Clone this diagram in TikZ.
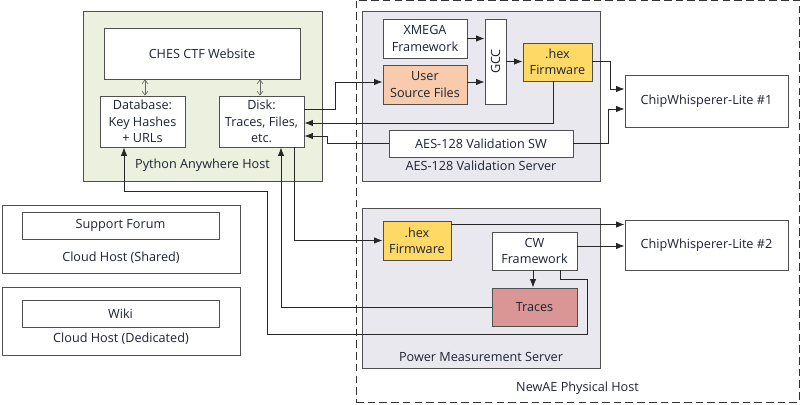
\documentclass[tikz,border=0pt]{standalone}
\usepackage{fontspec}
\setmainfont{Open Sans}
\usepackage{tikz}
\usetikzlibrary{arrows.meta,positioning,calc}
\definecolor{HostGreen}{HTML}{EBF1DE}
\definecolor{ServerGray}{HTML}{EAE8EF}
\definecolor{SrcOrange}{HTML}{F8CBAD}
\definecolor{HexYellow}{HTML}{FFD966}
\definecolor{TraceRed}{HTML}{D99694}
\definecolor{EdgeGray}{HTML}{505050}
\definecolor{InkDark}{HTML}{1C2333}

\begin{document}
\begin{tikzpicture}[
    x=0.03cm, y=-0.03cm,
    font=\fontsize{10.8}{14}\selectfont, text=InkDark,
    host/.style={rectangle, draw=EdgeGray, line width=0.8pt, fill=HostGreen},
    server/.style={rectangle, draw=EdgeGray, line width=0.8pt, fill=ServerGray},
    cloud/.style={rectangle, draw=EdgeGray, line width=0.8pt, fill=white},
    box/.style={rectangle, draw=EdgeGray, line width=0.8pt, fill=white, align=center, inner sep=1pt},
    src/.style={box, fill=SrcOrange},
    hexfile/.style={box, fill=HexYellow},
    tracefile/.style={box, fill=TraceRed},
    arrow/.style={-{Latex[length=2.5mm,width=1.9mm]}, line width=0.7pt, draw=black!85},
    dbl/.style={{Straight Barb[length=1.2mm,width=1.8mm]}-{Straight Barb[length=1.2mm,width=1.8mm]}, line width=0.5pt, draw=black!60}
]
\useasboundingbox (0,0) rectangle (800,405);

% physical host and servers
\node[rectangle, draw=black!80, line width=0.8pt, dash pattern=on 6.5pt off 3.5pt, minimum width=13.29cm, minimum height=12.06cm] (newae) at (577.5,201) {};
\node at ($(newae.south)+(0,-14)$) (newaelbl) {NewAE Physical Host};

\node[host, minimum width=7.17cm, minimum height=5.1cm] (pah) at (202.5,96) {};
\node at ($(pah.south)+(0,-16)$) (pahlbl) {Python Anywhere Host};
\node[server, minimum width=7.14cm, minimum height=5.1cm] (aes) at (481,96) {};
\node at ($(aes.south)+(0,-16)$) (aeslbl) {AES-128 Validation Server};
\node[server, minimum width=7.14cm, minimum height=4.8cm] (pms) at (481,288) {};
\node at ($(pms.south)+(0,-11)$) (pmslbl) {Power Measurement Server};

\node[cloud, minimum width=7.14cm, minimum height=2.04cm] (forumhost) at (121,239) {};
\node at ($(forumhost.south)+(0,-16)$) (forumlbl) {Cloud Host (Shared)};
\node[cloud, minimum width=7.14cm, minimum height=2.04cm] (wikihost) at (121,321) {};
\node at ($(wikihost.south)+(0,-17)$) (wikilbl) {Cloud Host (Dedicated)};

% boxes
\node[box, minimum width=5.88cm, minimum height=1.53cm] (ches) at (202,53.5) {CHES CTF Website};
\node[box, minimum width=2.55cm, minimum height=1.53cm] (db) at (142.5,121.5) {Database:\\Key Hashes\\+ URLs};
\node[box, minimum width=2.55cm, minimum height=1.53cm] (disk) at (261.5,121.5) {Disk:\\Traces, Files,\\etc.};

\node[box, minimum width=2.52cm, minimum height=1.17cm] (xmega) at (425,38.5) {XMEGA\\Framework};
\node[src, minimum width=2.52cm, minimum height=1.17cm] (user) at (425,84.5) {User\\Source Files};
\node[box, minimum width=0.63cm, minimum height=2.55cm] (gcc) at (495.5,61.5) {\rotatebox{90}{GCC}};
\node[hexfile, minimum width=2.07cm, minimum height=1.14cm] (hexa) at (557.5,62) {.hex\\Firmware};
\node[box, minimum width=5.52cm, minimum height=0.81cm] (aessw) at (481,143.5) {AES-128 Validation SW};
\node[box, minimum width=4.89cm, minimum height=1.56cm] (cwa) at (706.5,101) {ChipWhisperer-Lite \#1};

\node[hexfile, minimum width=2.04cm, minimum height=1.17cm] (hexb) at (417,240.5) {.hex\\Firmware};
\node[box, minimum width=2.55cm, minimum height=1.14cm] (cwfw) at (534.5,251) {CW\\Framework};
\node[tracefile, minimum width=2.55cm, minimum height=1.14cm] (traces) at (534.5,307) {Traces};
\node[box, minimum width=4.89cm, minimum height=1.5cm] (cwb) at (706.5,245) {ChipWhisperer-Lite \#2};

\node[box, minimum width=5.91cm, minimum height=0.81cm] (forum) at (120.5,225.5) {Support Forum};
\node[box, minimum width=5.91cm, minimum height=0.81cm] (wiki) at (120.5,313.5) {Wiki};

% connector ends
\coordinate (dbtop) at ($(db.north)+(2.5,0)$);
\coordinate (disktop) at ($(disk.north)+(-1.5,0)$);
\coordinate (userout) at ($(user.east)+(0,-2.5)$);
\coordinate (hexbout) at ($(hexb.north east)+(0,4)$);
\coordinate (cwbin) at ($(cwb.west)+(0,1)$);
\coordinate (cwfwout) at ($(cwfw.south)+(-1.5,0)$);

% website links
\draw[dbl] (dbtop) -- (dbtop |- ches.south);
\draw[dbl] (disktop) -- (disktop |- ches.south);

% validation server
\draw[arrow] (xmega.east) -- (xmega.east -| gcc.west);
\draw[arrow] (userout) -- (userout -| gcc.west);
\draw[arrow] (gcc.east) -- (gcc.east -| hexa.west);
\draw[arrow] ($(hexa.east)+(0,-1)$) -- ++(18,0) |- ($(cwa.west)+(0,-12)$);
\draw[arrow] (aessw.east) -- ++(35,0) |- ($(cwa.west)+(0,8)$);
\draw[arrow] ($(disk.east)+(0,-12.5)$) -- ++(31,0) |- (userout -| user.west);
\draw[arrow] ($(hexa.south)+(-4.5,0)$) |- ($(disk.east)+(0,1.5)$);
\draw[arrow] (aessw.west) -- ++(-61,0) |- ($(disk.east)+(0,14.5)$);

% measurement server
\draw[arrow] ($(disk.south)+(32.5,0)$) |- (hexb.west);
\draw[arrow] (traces.west) -| ($(disk.south)+(19.5,0)$);
\draw[arrow] (hexbout) -- (hexbout -| cwb.west);
\draw[arrow, {Latex[length=2.5mm,width=1.9mm]}-] (cwbin) -- (cwbin -| cwfw.east);
\draw[arrow] (cwfwout) -- (cwfwout |- traces.north);
\draw[arrow] ($(cwfw.south)+(25.5,0)$) -- ++(0,9) -- ++(27,0) -- ++(0,55) -| (267,191) -| ($(db.south)+(-18.5,0)$);
\end{tikzpicture}
\end{document}
